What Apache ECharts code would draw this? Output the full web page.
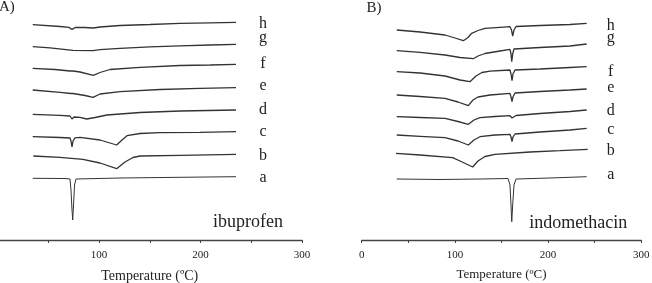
<!DOCTYPE html>
<html><head><meta charset="utf-8">
<script src="https://cdn.jsdelivr.net/npm/echarts@6/dist/echarts.min.js"></script>
<style>html,body{margin:0;padding:0;background:#fff;overflow:hidden}#c{width:652px;height:283px}</style>
</head><body><div id="c"></div><script>
// Sample letters (bottom to top)
const sampleLetters = ['a','b','c','d','e','f','g','h'];
const drugNames = ['ibuprofen', 'indomethacin'];
const panelTitles = ['A)', 'B)'];
const axisTitle = 'Temperature (ºC)';

// DSC thermograms, ibuprofen panel: [temperature °C, heat flow (arb. units, offset)]
const ibu_a = [[34.7,61.7],[66.5,61.5],[71.4,61],[72.4,50],[73.4,30],[74.1,20],[74.9,35],[75.9,55],[77.3,61],[120.7,62],[179.8,62.7],[235,63.3]];
const ibu_b = [[35.3,84],[61.6,82.7],[84.2,80.7],[101,77],[117.4,71.3],[125.6,78],[133.5,82.5],[140.4,84],[179.8,84.7],[235,85.7]];
const ibu_c = [[34.7,103.3],[61.6,102.5],[71.4,102],[72.4,99],[73.4,93],[74.4,99],[76.4,102.2],[81.3,102.7],[101,100],[117.4,95],[122.7,100],[127.6,104.3],[140.4,106.5],[160.1,107.3],[199.5,107.7],[235,108.3]];
const ibu_d = [[34.7,125.7],[61.6,124.7],[71.4,124],[73.4,121],[75.4,123],[81.3,122.7],[87.9,121],[96.1,122.5],[107.9,125],[140.4,127.5],[179.8,129],[235,130]];
const ibu_e = [[34.7,150],[61.6,147.7],[72.4,146.5],[73.4,145.7],[74.4,146.5],[86.2,144.5],[94.1,142.7],[101,146],[120.7,148.3],[160.1,150.5],[199.5,151.7],[235,152.3]];
const ibu_f = [[34.7,171.7],[56.7,170.5],[71.4,169],[72.9,167.3],[74.4,169],[81.3,168],[94.4,164.7],[101,167.5],[110.8,170.5],[140.4,172.7],[179.8,174.5],[209.4,175],[235,175.7]];
const ibu_g = [[34.7,193.3],[51.7,192.2],[74.4,189.7],[94.1,189.3],[101,190.3],[120.7,191.7],[150.2,193.2],[179.8,194.2],[209.4,195],[235,195.7]];
const ibu_h = [[34.7,215.3],[61.6,213.5],[70.4,212.7],[72.4,211],[73.4,209],[74.4,211],[76.4,212.5],[86.2,212.5],[94.4,212],[101,213],[120.7,214.5],[150.2,215.5],[179.8,216.7],[209.4,217.2],[235,217.7]];

// DSC thermograms, indomethacin panel
const indo_a = [[37.6,61],[84,60.5],[127,61],[157,61.5],[159.1,55],[160.2,35],[161,18.3],[162,35],[163.4,55],[165.6,61],[202.1,62],[241.4,63.3]];
const indo_b = [[36.8,86.7],[62.6,85],[97.6,82.3],[105.5,79],[119.1,73],[124.8,79],[132.3,83.5],[143,85.7],[180.6,88],[212.8,89.3],[242.5,90.7]];
const indo_c = [[37.6,105],[62.6,103.7],[89.4,102.3],[103.3,99],[114.4,95],[120.5,100],[126.9,103.3],[143,105],[159.1,105.7],[160.2,103],[161.3,98.3],[162.3,103],[164.5,106],[191.3,108],[223.5,110],[241.4,111.7]];
const indo_d = [[37.6,123.3],[62.6,122.5],[89.4,121.7],[103.3,118.5],[114.4,115.7],[120.5,120],[126.9,122.3],[143,123.5],[159.1,124.3],[161.3,122],[162.3,120],[163.4,122],[165.6,124.5],[191.3,126.5],[223.5,128.5],[241.4,130]];
const indo_e = [[37.6,145],[62.6,143.5],[89.4,141.7],[103.3,138],[114.4,134.3],[119.4,140],[124.8,143],[137.7,145],[159.1,146.7],[160.2,143],[161.3,138.3],[162.3,143],[164.5,147],[191.3,148.5],[223.5,150],[241.4,151]];
const indo_f = [[37.6,168.3],[62.6,167],[89.4,164],[105.5,160],[116.2,158.3],[122.6,164],[129,167.5],[137.7,168.8],[159.1,170],[160.2,166],[161.3,159.3],[162.3,166],[164.5,170],[191.3,171],[223.5,172.5],[241.4,173.3]];
const indo_g = [[37.6,189.3],[62.6,187.7],[89.4,185],[105.5,182.5],[119.7,181.3],[124.8,184],[132.3,186.5],[148.4,189],[159.1,190.7],[160.2,186],[161,178.3],[162,186],[163.4,191],[191.3,192.5],[223.5,194],[241.4,196]];
const indo_h = [[37.6,210],[62.6,208],[89.4,205],[100.1,202],[109,199.3],[114.1,202.5],[118,206.7],[124.8,209.5],[132.3,211.7],[148.4,212.7],[159.1,213.3],[160.7,210],[162,204],[163.4,210],[165.6,213.5],[191.3,214.5],[223.5,215.5],[241.4,216.7]];

const ibuCurves = [ibu_a, ibu_b, ibu_c, ibu_d, ibu_e, ibu_f, ibu_g, ibu_h];
const indoCurves = [indo_a, indo_b, indo_c, indo_d, indo_e, indo_f, indo_g, indo_h];

const serif = "'Liberation Serif', 'Times New Roman', serif";
const ink = '#222';
const lineCol = '#333';

function xAxisCfg(gridIndex, nameSize, nameGap, hideZero) {
  return {
    type: 'value', gridIndex, min: 0, max: 300, interval: 100,
    name: axisTitle, nameLocation: 'middle', nameGap,
    nameTextStyle: { fontFamily: serif, fontSize: nameSize, color: ink },
    axisLine: { lineStyle: { color: '#444', width: 1.3 } },
    axisTick: { show: true, length: 3, lineStyle: { color: '#444', width: 1 } },
    minorTick: { show: true, splitNumber: 2, length: 3, lineStyle: { color: '#444', width: 1 } },
    splitLine: { show: false },
    axisLabel: { fontFamily: serif, fontSize: 11, color: ink, margin: 10,
      formatter: v => (hideZero && v === 0) ? '' : String(v) }
  };
}
function yAxisCfg(gridIndex) {
  return { type: 'value', gridIndex, min: 0, max: 240, show: false,
    axisLine: { show: false }, splitLine: { show: false } };
}

const series = [];
ibuCurves.forEach((d, i) => series.push({
  type: 'line', name: 'ibu_' + sampleLetters[i], xAxisIndex: 0, yAxisIndex: 0, data: d,
  showSymbol: false, silent: true, lineStyle: { color: lineCol, width: i === 0 ? 1 : 1.3 }
}));
indoCurves.forEach((d, i) => series.push({
  type: 'line', name: 'indo_' + sampleLetters[i], xAxisIndex: 1, yAxisIndex: 1, data: d,
  showSymbol: false, silent: true, lineStyle: { color: lineCol, width: i === 0 ? 1 : 1.3 }
}));

// letter label positions (layout only)
const letterYA = [177.3, 155.3, 131.3, 109.6, 85.3, 63.9, 37.9, 23.9];
const letterYB = [174.6, 150.3, 129.6, 110.6, 87.9, 71.3, 37.9, 25.3];
const graphics = [];
sampleLetters.forEach((l, i) => {
  graphics.push({ type: 'text', x: 263, y: letterYA[i], style: { text: l, font: '16px ' + serif, fill: ink, textAlign: 'center', textVerticalAlign: 'middle' } });
  graphics.push({ type: 'text', x: 610.7, y: letterYB[i], style: { text: l, font: '16px ' + serif, fill: ink, textAlign: 'center', textVerticalAlign: 'middle' } });
});
graphics.push({ type: 'text', x: 248, y: 222.2, style: { text: drugNames[0], font: '18px ' + serif, fill: ink, textAlign: 'center', textVerticalAlign: 'middle' } });
graphics.push({ type: 'text', x: 578.3, y: 223.2, style: { text: drugNames[1], font: '18px ' + serif, fill: ink, textAlign: 'center', textVerticalAlign: 'middle' } });
graphics.push({ type: 'text', x: -1, y: 7.5, style: { text: panelTitles[0], font: '15px ' + serif, fill: ink, textAlign: 'left', textVerticalAlign: 'middle' } });
graphics.push({ type: 'text', x: 366.5, y: 8.5, style: { text: panelTitles[1], font: '15px ' + serif, fill: ink, textAlign: 'left', textVerticalAlign: 'middle' } });

const chart = echarts.init(document.getElementById('c'), null, { renderer: 'canvas' });
chart.setOption({
  animation: false,
  backgroundColor: '#fff',
  grid: [
    { left: -2.5, top: 0, width: 304.5, height: 240, containLabel: false, outerBoundsMode: 'none' },
    { left: 361.7, top: 0, width: 279.6, height: 240, containLabel: false, outerBoundsMode: 'none' }
  ],
  xAxis: [xAxisCfg(0, 14, 29, true), xAxisCfg(1, 13, 28, false)],
  yAxis: [yAxisCfg(0), yAxisCfg(1)],
  series,
  graphic: graphics
});
</script></body></html>
